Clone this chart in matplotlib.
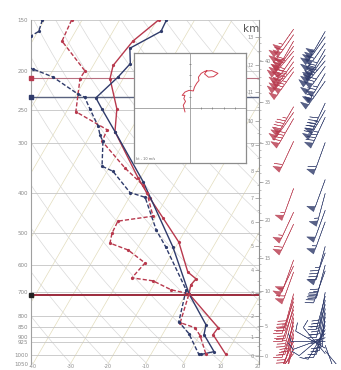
import numpy as np
import matplotlib.pyplot as plt
from matplotlib.ticker import NullLocator, NullFormatter

RED = '#b8394d'
BLUE = '#2f3b6b'
SKEW = 27.3
P_BOT, P_TOP = 1050, 150

# axis labels
p_ticks = [150, 200, 250, 300, 400, 500, 600, 700, 800, 850, 900, 925, 1000, 1050]
t_ticks = [-40, -30, -20, -10, 0, 10, 20]

# sounding 1 (red): temperature / dew point
red_t_p = [150, 169, 194, 209, 248, 282, 367, 411, 460, 527, 624, 649, 671, 706, 855, 889, 995]
red_t = [-59.6, -63.2, -64.7, -63.5, -57.0, -54.0, -40.6, -34.4, -27.8, -19.9, -12.9, -9.6, -10.1, -9.2, 3.8, 3.5, 10.0]
red_td_p = [150, 169, 200, 209, 252, 279, 298, 347, 382, 400, 455, 468, 501, 530, 551, 593, 645, 656, 690, 706, 831, 855, 894, 995]
red_td = [-82.8, -82.1, -71.4, -71.5, -67.5, -56.4, -55.9, -45.6, -38.2, -35.9, -30.8, -39.4, -39.1, -38.1, -32.2,
          -25.7, -26.9, -20.8, -14.6, -9.2, -7.1, -2.4, 0.2, 4.7]

# sounding 2 (blue)
blue_t_p = [150, 160, 176, 192, 207, 233, 248, 282, 374, 542, 706, 841, 889, 979, 995]
blue_t = [-57.5, -57.2, -62.9, -60.4, -61.6, -64.3, -61.0, -54.0, -38.8, -20.7, -9.2, 0.1, 1.1, 6.4, 3.4]
blue_td_p = [150, 160, 164, 180, 198, 207, 228, 232, 248, 273, 288, 298, 343, 353, 398, 409, 492, 542, 690, 827, 884, 995]
blue_td = [-90.6, -89.8, -91.1, -100.0, -85.5, -79.0, -69.7, -67.4, -64.2, -59.4, -57.4, -55.7, -52.1, -48.4,
           -40.6, -35.8, -27.8, -22.6, -10.6, -7.6, -3.1, 2.8]

# marked levels
red_level = 208
blue_level = 232
mix_level = 712

# hodograph
hodo_u = [-0.9, -1.2, -0.8, -1.1, -0.9, -1.4, -0.9, -0.2, 0.0, 0.6, 0.8, 1.2, 1.6, 1.5, 2.0, 2.7, 3.9, 5.0, 4.2,
          3.3, 2.6, 3.0]
hodo_v = [-0.7, 0.5, 1.2, 1.7, 2.3, 2.3, 2.9, 3.2, 3.2, 3.1, 3.8, 4.5, 5.0, 5.6, 6.3, 6.7, 6.8, 6.3, 5.7,
          5.6, 6.2, 6.8]

# height scales
km_levels = list(range(14))
km_p = [1006, 899, 799, 702, 617, 539, 471, 411, 353, 305, 265, 226, 194, 165]
kft_levels = [0, 5, 10, 15, 20, 25, 30, 35, 40]
kft_p = [1006, 845, 694, 576, 465, 374, 300, 238, 189]

# winds (pressure, speed kt, direction deg)
red_w_p = [158, 163, 169, 174, 179, 184, 190, 196, 201, 245, 253, 262, 298, 389, 445, 476, 583, 603, 624,
           706, 722, 738, 756, 772, 790, 808, 827, 845, 865, 884, 904, 925, 946, 968, 990]
red_w_spd = [105, 110, 100, 120, 125, 115, 130, 135, 125, 95, 100, 90, 60, 55, 55, 60, 50, 55, 60,
             30, 25, 25, 20, 20, 25, 20, 15, 15, 20, 15, 15, 10, 10, 10, 5]
red_w_dir = [215, 215, 210, 215, 220, 215, 215, 220, 215, 210, 215, 210, 205, 200, 205, 205, 200, 205, 200,
             195, 195, 200, 195, 200, 195, 190, 195, 200, 195, 190, 200, 205, 195, 210, 220]
blue_w_p = [160, 165, 171, 177, 183, 189, 195, 203, 212, 240, 250, 260, 300, 370, 400, 440, 470, 540, 560, 600, 620,
            700, 716, 732, 750, 768, 786, 805, 825, 845, 865, 885, 905, 925, 945, 960, 975, 990]
blue_w_spd = [100, 105, 110, 115, 120, 125, 120, 115, 110, 90, 95, 85, 60, 50, 55, 50, 55, 45, 50, 40, 45,
              30, 25, 25, 20, 20, 15, 20, 15, 15, 10, 10, 10, 10, 5, 10, 5, 10]
blue_w_dir = [210, 215, 215, 210, 215, 220, 215, 210, 215, 205, 210, 205, 200, 200, 195, 200, 200, 195, 200, 195, 200,
              190, 195, 190, 195, 190, 185, 190, 195, 200, 210, 230, 250, 270, 160, 300, 140, 320]


def skew_x(t, p):
    return np.asarray(t, float) + SKEW * np.log(P_BOT / np.asarray(p, float))


W, H = 341, 370
fig = plt.figure(figsize=(W / 100, H / 100), dpi=100)
bot = 1 - 364 / H
hgt = 344 / H
ax = fig.add_axes([31 / W, bot, 228 / W, hgt])
ax.set_yscale('log')
ax.set_ylim(P_BOT, P_TOP)
ax.set_xlim(-40.5, 20.3)

# background: isotherms and dry adiabats
pp = np.linspace(P_TOP, P_BOT, 60)
for t0 in range(-140, 50, 10):
    ax.plot(skew_x(t0, pp), pp, color='#e3ddbd', lw=0.5, zorder=0)
for th in range(230, 500, 10):
    ax.plot(skew_x(th * (pp / 1000) ** 0.2857 - 273.15, pp), pp, color='#d9d9d9', lw=0.5, zorder=0)
for p in p_ticks:
    ax.axhline(p, color='#c4c4c4', lw=0.6, zorder=1)

# marked levels
ax.axhline(red_level, color='#b97080', lw=0.8, zorder=2)
ax.axhline(blue_level, color='#59627f', lw=1.0, zorder=2)
ax.axhline(mix_level, color='#9c2a3c', lw=1.4, zorder=2)
ax.plot([-40.5], [red_level], 's', color=RED, ms=2.5, clip_on=False, zorder=5)
ax.plot([-40.5], [blue_level], 's', color=BLUE, ms=2.5, clip_on=False, zorder=5)
ax.plot([-40.5], [mix_level], 's', color='#222222', ms=2.5, clip_on=False, zorder=5)

# soundings
ax.plot(skew_x(red_t, red_t_p), red_t_p, color=RED, lw=1.0, marker='o', ms=1.3, zorder=4)
ax.plot(skew_x(blue_t, blue_t_p), blue_t_p, color=BLUE, lw=1.0, marker='o', ms=1.3, zorder=4)
ax.plot(skew_x(red_td, red_td_p), red_td_p, color=RED, lw=1.0, ls=(0, (3, 1.5)), marker='o', ms=1.3, zorder=4)
ax.plot(skew_x(blue_td, blue_td_p), blue_td_p, color=BLUE, lw=1.0, ls=(0, (3, 1.5)), marker='o', ms=1.3, zorder=4)

ax.set_yticks(p_ticks)
ax.set_yticklabels([str(p) for p in p_ticks])
ax.yaxis.set_minor_locator(NullLocator())
ax.yaxis.set_minor_formatter(NullFormatter())
ax.set_xticks(t_ticks)
ax.set_xticklabels([str(t) for t in t_ticks])
ax.tick_params(axis='y', length=0, labelsize=4, labelcolor='#8a8a8a', pad=2)
ax.tick_params(axis='x', length=0, labelsize=3.5, labelcolor='#8a8a8a', pad=0.3)
for s in ['top', 'right', 'bottom']:
    ax.spines[s].set_visible(False)
ax.spines['left'].set_color('#a0a0a0')
ax.spines['left'].set_linewidth(0.8)

# height axis (km left, kft right)
hk = fig.add_axes([259 / W, bot, 0.0001, hgt])
hk.set_yscale('log')
hk.set_ylim(P_BOT, P_TOP)
hk.set_xticks([])
for s in ['top', 'right', 'bottom']:
    hk.spines[s].set_visible(False)
hk.spines['left'].set_color('#909090')
hk.spines['left'].set_linewidth(0.8)
hk.set_yticks(km_p)
hk.set_yticklabels([str(k) for k in km_levels])
half_km = np.arange(0.5, 13.5, 0.5)
hk.set_yticks(np.exp(np.interp(half_km, km_levels, np.log(km_p))), minor=True)
hk.yaxis.set_minor_formatter(NullFormatter())
hk.tick_params(which='major', length=3, width=0.5, color='#909090', labelsize=3.5, labelcolor='#8a8a8a', pad=1)
hk.tick_params(which='minor', length=1.5, width=0.4, color='#909090')

hf = hk.twinx()
hf.set_yscale('log')
hf.set_ylim(P_BOT, P_TOP)
for s in ['top', 'left', 'bottom', 'right']:
    hf.spines[s].set_visible(False)
hf.set_yticks(kft_p)
hf.set_yticklabels([str(k) for k in kft_levels])
kft_minor = np.arange(1, 44) * 0.3048
hf.set_yticks(np.exp(np.interp(kft_minor, km_levels, np.log(km_p))), minor=True)
hf.yaxis.set_minor_formatter(NullFormatter())
hf.tick_params(which='major', length=3, width=0.5, color='#909090', labelsize=3.5, labelcolor='#8a8a8a', pad=1)
hf.tick_params(which='minor', length=1.5, width=0.4, color='#909090')
fig.text(251 / W, 1 - 29 / H, 'km', fontsize=7.5, color='#555555', ha='center', va='center')

# wind barbs
bx = fig.add_axes([262 / W, bot, 79 / W, hgt])
bx.set_yscale('log')
bx.set_ylim(P_BOT, P_TOP)
bx.set_xlim(0, 1)
bx.axis('off')
for wp, spd, wd, xc, col in [(red_w_p, red_w_spd, red_w_dir, 0.40, RED),
                             (blue_w_p, blue_w_spd, blue_w_dir, 0.80, BLUE)]:
    spd = np.asarray(spd, float)
    rad = np.deg2rad(wd)
    bx.barbs(np.full(len(wp), xc), wp, -spd * np.sin(rad), -spd * np.cos(rad),
             length=7, color=col, lw=0.4, alpha=0.8,
             sizes=dict(spacing=0.09, height=0.24, width=0.16))

# hodograph inset
hod = fig.add_axes([134 / W, 1 - 163 / H, 112 / W, 110 / H])
hod.set_xlim(-10, 10)
hod.set_ylim(-10, 10)
hod.axhline(0, color='#9a9a9a', lw=0.6)
hod.axvline(0, color='#9a9a9a', lw=0.6)
hod_ticks = [2, 4, 6, 8, 10]
hod.plot(hod_ticks, [0] * 5, '|', color='#777777', ms=2, mew=0.5)
hod.plot([0] * 5, hod_ticks, '_', color='#777777', ms=2, mew=0.5)
hod.plot(hodo_u, hodo_v, color='#d04050', lw=0.7)
hod.set_xticks([])
hod.set_yticks([])
for s in hod.spines.values():
    s.set_color('#8c8c8c')
    s.set_linewidth(0.9)
hod.text(-9.6, -9.4, 'kt - 10 m/s', fontsize=2.5, color='#666666')

fig.savefig('out.png', dpi=100)
